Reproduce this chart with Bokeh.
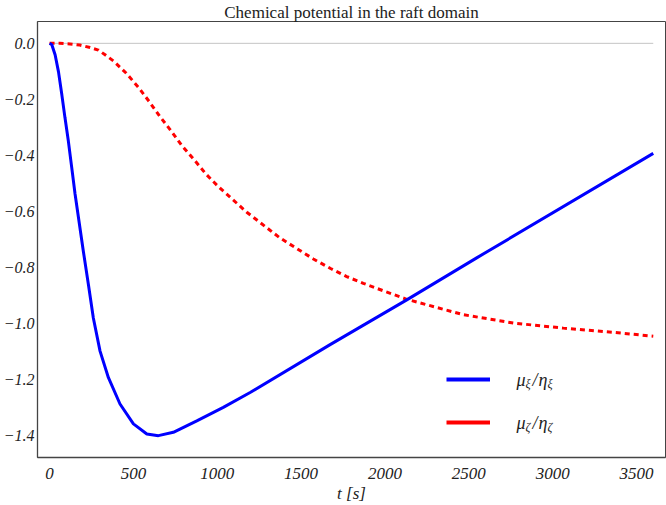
from bokeh.plotting import figure
from bokeh.models import (Range1d, FixedTicker, CustomJSTickFormatter, Label,
                          Legend, LegendItem, ColumnDataSource)
from bokeh.embed import file_html
from bokeh.resources import INLINE

# ---- data ----
t_xi = [0, 13, 33, 53, 73, 92, 112, 132, 152, 202, 232, 261, 301, 351, 420,
        500, 580, 649, 738, 878, 1036, 1196, 1673, 2130, 2547, 3600]
mu_xi = [0.0, -0.004, -0.041, -0.101, -0.183, -0.266, -0.349, -0.443, -0.538,
         -0.745, -0.863, -0.981, -1.099, -1.194, -1.288, -1.359, -1.395,
         -1.401, -1.389, -1.348, -1.300, -1.247, -1.076, -0.916, -0.766,
         -0.393]

t_zeta = [0, 60, 122, 180, 241, 291, 331, 381, 456, 530, 593, 659, 725, 790,
          864, 933, 1007, 1176, 1374, 1573, 1676, 1772, 1871, 1951, 2130,
          2467, 2766, 3064, 3362, 3600]
mu_zeta = [0.0, 0.0, -0.002, -0.006, -0.015, -0.024, -0.041, -0.063, -0.106,
           -0.157, -0.207, -0.262, -0.313, -0.366, -0.417, -0.467, -0.512,
           -0.603, -0.695, -0.770, -0.804, -0.833, -0.857, -0.875, -0.914,
           -0.969, -0.999, -1.017, -1.032, -1.046]

x_ticks = [0, 500, 1000, 1500, 2000, 2500, 3000, 3500]
y_ticks = [-1.4, -1.2, -1.0, -0.8, -0.6, -0.4, -0.2, 0.0]

title_text = "Chemical potential in the raft domain"
x_label = "t [s]"

SERIF = "Liberation Serif"
X0, X1 = -72, 3673
Y0, Y1 = -1.479, 0.078

p = figure(width=666, height=505, output_backend="svg", toolbar_location=None,
           x_range=Range1d(X0, X1), y_range=Range1d(Y0, Y1),
           min_border_left=36, min_border_right=1, min_border_top=0,
           min_border_bottom=0, title=title_text)
p.title.text_font = SERIF
p.title.text_font_style = "normal"
p.title.text_font_size = "17px"
p.title.text_color = "#222222"
p.title.align = "center"
p.title.standoff = 0
p.title.text_line_height = 0.8

p.background_fill_color = "white"
p.border_fill_color = "white"
p.outline_line_color = "#444444"
p.outline_line_width = 1
p.xgrid.visible = False
p.ygrid.visible = False

for ax in (p.xaxis[0], p.yaxis[0]):
    ax.major_tick_line_color = None
    ax.minor_tick_line_color = None
    ax.axis_line_color = "#444444"
    ax.axis_line_width = 1.3
    ax.major_label_text_font = SERIF
    ax.major_label_text_font_style = "italic"
    ax.major_label_text_color = "#222222"

p.xaxis.major_label_text_font_size = "17px"
p.yaxis.major_label_text_font_size = "16px"
p.xaxis.ticker = FixedTicker(ticks=x_ticks)
p.yaxis.ticker = FixedTicker(ticks=y_ticks)
p.yaxis.formatter = CustomJSTickFormatter(
    code="return tick.toFixed(1).replace('-', '\u2212');")
p.xaxis.major_label_standoff = 4
p.yaxis.major_label_standoff = -3
p.xaxis.axis_label = x_label
p.xaxis.axis_label_text_font = SERIF
p.xaxis.axis_label_text_font_style = "italic"
p.xaxis.axis_label_text_font_size = "17px"
p.xaxis.axis_label_standoff = 2
p.xaxis.axis_label_text_color = "#222222"

# zero reference line spanning the data
p.line(x=[t_xi[0], t_xi[-1]], y=[0, 0], line_color="#c4c4c4", line_width=1)

p.line(x=t_zeta, y=mu_zeta, line_color="#ff0000", line_width=3,
       line_dash="5 4")
p.line(x=t_xi, y=mu_xi, line_color="#0000ff", line_width=3)

# legend (glyph samples from renderers that draw nothing in the plot)
nan = float("nan")
dummy = ColumnDataSource(data=dict(x=[nan, nan], y=[nan, nan]))
lb = p.line(x="x", y="y", source=dummy, line_color="#0000ff", line_width=4)
lr = p.line(x="x", y="y", source=dummy, line_color="#ff0000", line_width=4)
leg = Legend(items=[LegendItem(label=" ", renderers=[lb]),
                    LegendItem(label=" ", renderers=[lr])],
             location=(409, 25), glyph_width=44, glyph_height=20,
             label_width=0, label_height=20, label_standoff=0, spacing=23,
             padding=0, margin=0, border_line_alpha=0,
             background_fill_alpha=0, label_text_font_size="2px")
p.add_layout(leg, "center")

# legend texts with subscripts
def math_label(x0, yc, sym, sub):
    parts = [(sym[0], 0, 18, 0), (sub, 9, 12, -4), ("/", 16, 18, 0),
             (sym[1], 22, 18, 0), (sub, 31, 12, -4)]
    for txt, dx, fs, dy in parts:
        p.add_layout(Label(x=x0 + dx, y=yc + dy, x_units="screen",
                           y_units="screen", text=txt, text_font=SERIF,
                           text_font_style="italic",
                           text_font_size=f"{fs}px", text_color="#222222",
                           text_baseline="middle", text_align="left"))

math_label(479, 35 + 43, "μη", "ξ")
math_label(479, 35, "μη", "ζ")

open("out.html", "w").write(file_html(p, INLINE))
